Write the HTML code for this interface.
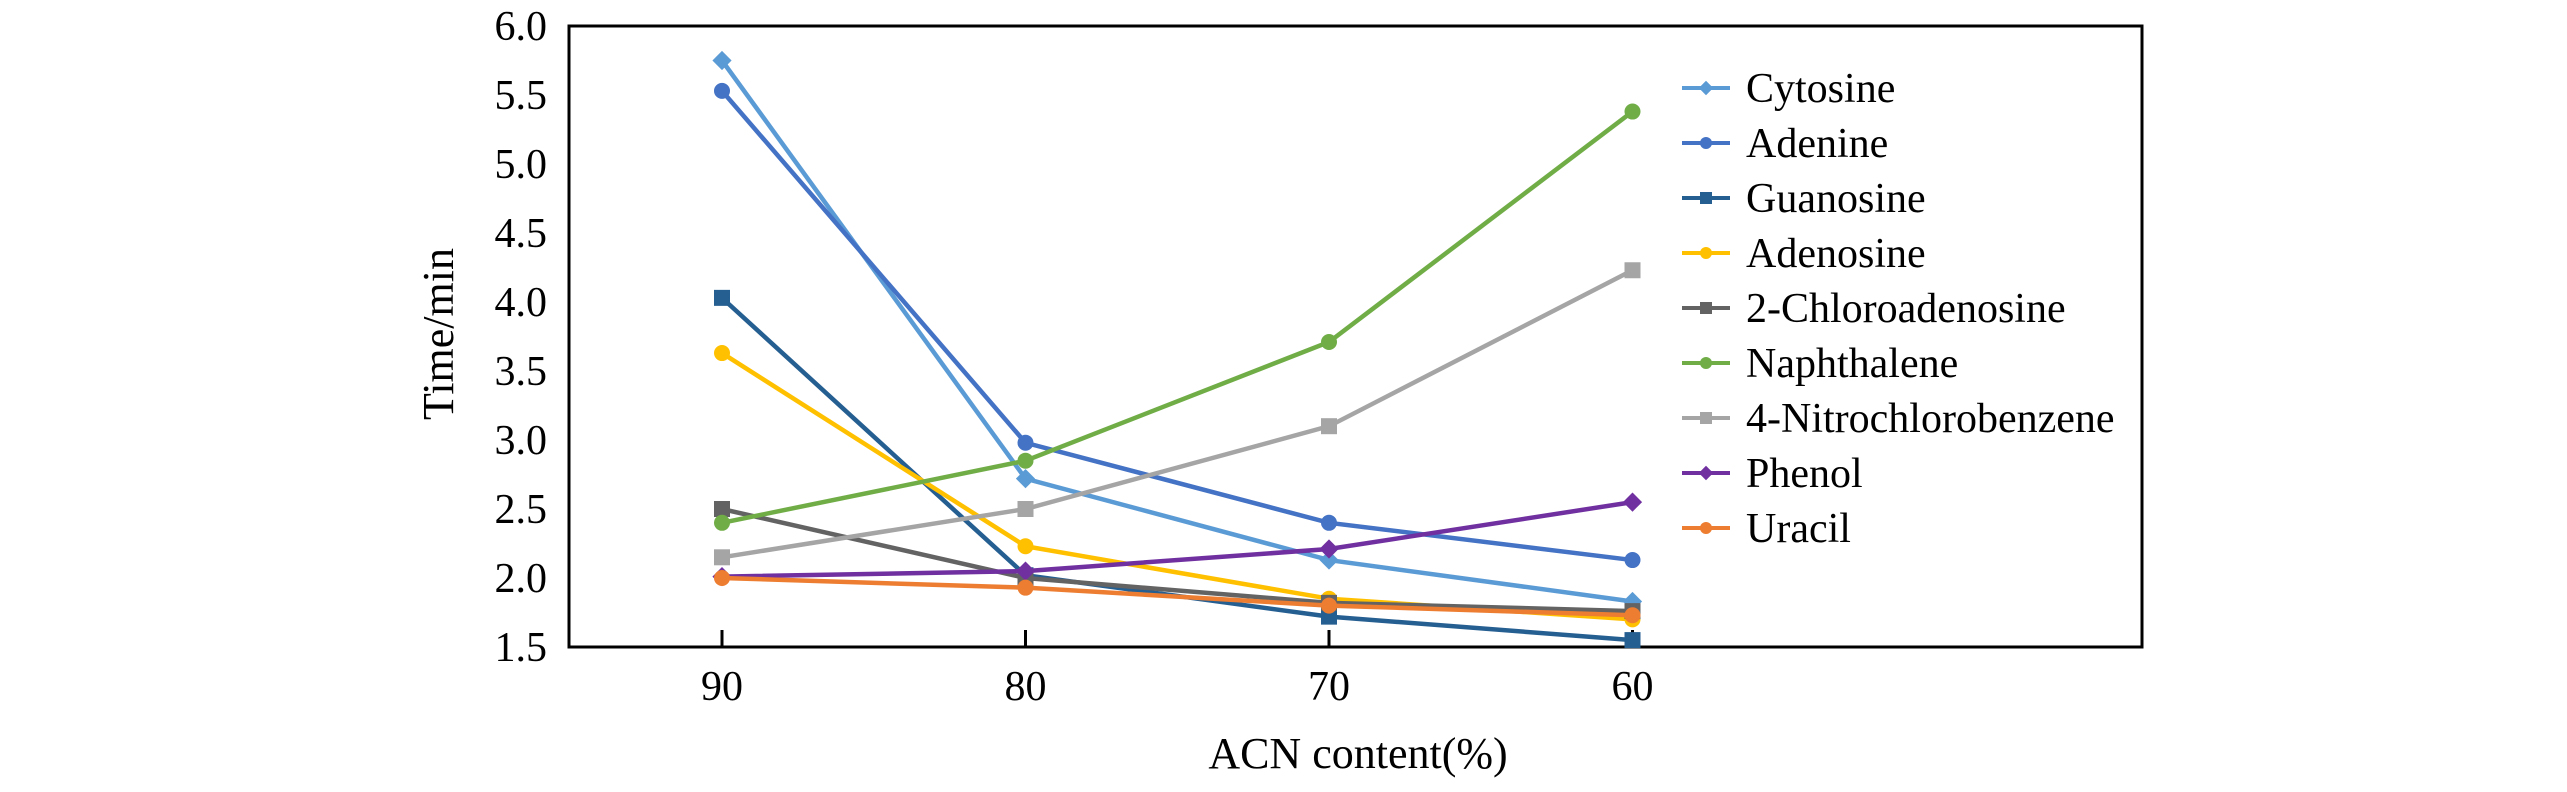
<!DOCTYPE html>
<html><head><meta charset="utf-8"><style>
html,body{margin:0;padding:0;background:#fff;}
svg text{font-family:"Liberation Serif",serif;fill:#000;}
</style></head><body>
<svg id="chart" width="2567" height="787" viewBox="0 0 2567 787" xmlns="http://www.w3.org/2000/svg">
<rect x="569" y="26" width="1573" height="621" fill="#fff" stroke="#000" stroke-width="3"/>
<g id="yt"></g>
<g id="xt"></g>
<g id="series"></g>
<g id="legend"></g>
<text x="453" y="334" font-size="44" text-anchor="middle" transform="rotate(-90 453 334)">Time/min</text>
<text x="1358" y="768" font-size="44" text-anchor="middle">ACN content(%)</text>
</svg>
<script>
const categories = ["90","80","70","60"];
const yTicks = [1.5,2.0,2.5,3.0,3.5,4.0,4.5,5.0,5.5,6.0];
const seriesNames = ["Cytosine","Adenine","Guanosine","Adenosine","2-Chloroadenosine","Naphthalene","4-Nitrochlorobenzene","Phenol","Uracil"];
const cytosine = [5.75,2.72,2.13,1.83];
const adenine = [5.53,2.98,2.40,2.13];
const guanosine = [4.03,2.02,1.72,1.55];
const adenosine = [3.63,2.23,1.85,1.70];
const chloroadenosine = [2.50,2.00,1.82,1.76];
const naphthalene = [2.40,2.85,3.71,5.38];
const nitrochlorobenzene = [2.15,2.50,3.10,4.23];
const phenol = [2.01,2.05,2.21,2.55];
const uracil = [2.00,1.93,1.80,1.73];
const seriesValues = [cytosine,adenine,guanosine,adenosine,chloroadenosine,naphthalene,nitrochlorobenzene,phenol,uracil];
const colors = ["#5B9BD5","#4472C4","#255E91","#FFC000","#636363","#70AD47","#A5A5A5","#7030A0","#ED7D31"];
const markers = ["diamond","circle","square","circle","square","circle","square","diamond","circle"];

const NS="http://www.w3.org/2000/svg";
const x = i => 722 + i*303.5;
const y = v => 647 - (v-1.5)/4.5*621;
function mk(tag, attrs, parent){const e=document.createElementNS(NS,tag);for(const k in attrs)e.setAttribute(k,attrs[k]);parent.appendChild(e);return e;}
function marker(type, cx, cy, color, parent, s){
  let e;
  if(type==="circle") e=mk("circle",{cx:cx,cy:cy,r:s,fill:color},parent);
  else if(type==="square") e=mk("rect",{x:cx-s,y:cy-s,width:2*s,height:2*s,fill:color},parent);
  else e=mk("polygon",{points:`${cx},${cy-s*1.2} ${cx+s*1.2},${cy} ${cx},${cy+s*1.2} ${cx-s*1.2},${cy}`,fill:color},parent);
  return e;
}
const yt=document.getElementById('yt');
yTicks.forEach(v=>{
  const t=mk("text",{x:547,y:y(v)+14,"font-size":42,"text-anchor":"end"},yt);
  
  
  t.textContent=v.toFixed(1);
});
const xt=document.getElementById('xt');
categories.forEach((c,i)=>{
  const l=mk("line",{x1:x(i),x2:x(i),y1:647,y2:630,stroke:"#000","stroke-width":3},xt);
  
  
  const t=mk("text",{x:x(i),y:700,"font-size":42,"text-anchor":"middle"},xt);
  
  
  t.textContent=c;
});
const sg=document.getElementById('series');
seriesValues.forEach((vals,si)=>{
  const g=mk("g",{},sg);
  
  
  const p=mk("polyline",{points:vals.map((v,i)=>x(i)+","+y(v)).join(" "),fill:"none",stroke:colors[si],"stroke-width":4.5},g);
  
  
  vals.forEach((v,i)=>{
    const m=marker(markers[si],x(i),y(v),colors[si],g,8);
    
    
  });
});
const lg=document.getElementById('legend');
seriesNames.forEach((n,i)=>{
  const cy=88+i*55;
  const g=mk("g",{},lg);
  
  
  mk("line",{x1:1682,x2:1730,y1:cy,y2:cy,stroke:colors[i],"stroke-width":4},g);
  marker(markers[i],1706,cy,colors[i],g,6);
  const t=mk("text",{x:1746,y:cy+14,"font-size":42},g);
  
  
  t.textContent=n;
});
</script>
</body></html>
